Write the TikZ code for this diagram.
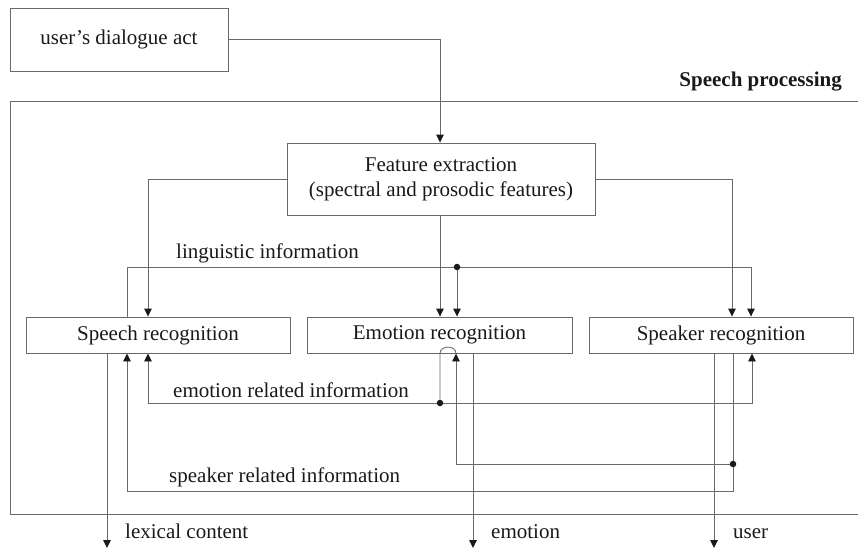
\documentclass[tikz,border=0pt]{standalone}
\usepackage{fontspec}
\setmainfont{Liberation Serif}
\usetikzlibrary{arrows.meta,calc}
\definecolor{ln}{RGB}{105,105,105}
\definecolor{tx}{RGB}{25,25,25}
\begin{document}
\begin{tikzpicture}[x=1pt,y=-1pt,
  box/.style={draw=ln,line width=0.9pt,inner sep=0pt,font=\fontsize{21}{25}\selectfont,text=tx,align=center},
  lbl/.style={inner sep=0pt,font=\fontsize{21}{25}\selectfont,text=tx},
  conn/.style={draw=ln,line width=0.9pt},
  arr/.style={conn,-{Triangle[width=7.5pt,length=8pt,color=tx]}},
  dot/.style={circle,fill=tx,inner sep=0pt,minimum size=6.5pt}]
\useasboundingbox (0,0) rectangle (858,550);

% outer frame
\draw[conn] (858,101) -- (10,101) -- (10,514) -- (858,514);
\node[lbl,font=\bfseries\fontsize{21}{25}\selectfont,anchor=base east] (sp) at (842,86) {Speech processing};

% boxes
\node[box,minimum width=218pt,minimum height=63pt] (uda) at (119,39.5) {user's dialogue act};
\node[box,minimum width=308pt,minimum height=72pt] (fe) at (441,179) {Feature extraction\\(spectral and prosodic features)};
\node[box,minimum width=264pt,minimum height=36pt] (sr) at (158,335) {Speech recognition};
\node[box,minimum width=265pt,minimum height=36pt] (er) at (439.5,335) {Emotion recognition};
\node[box,minimum width=264pt,minimum height=36pt] (spk) at (721,335) {Speaker recognition};

% input and feature distribution
\draw[arr] (uda.east) -| (440,0 |- fe.north);
\draw[arr] (440,0 |- fe.south) -- (440,0 |- er.north);
\draw[arr] (fe.west) -| (148,0 |- sr.north);
\draw[arr] (fe.east) -| (732,0 |- spk.north);

% linguistic information
\coordinate (ld) at (457,267);
\draw[arr] (127,0 |- sr.north) |- (751,267) -- (751,0 |- spk.north);
\draw[arr] (ld) -- (457,0 |- er.north);
\node[dot] (ldn) at (ld) {};
\node[lbl,anchor=base west] (li) at (176,258) {linguistic information};

% emotion related information
\coordinate (ed) at (440,403);
\draw[conn] (ed) -- (440,0 |- er.south) .. controls (440,345) and (456,345) .. (456,0 |- er.south);
\draw[arr] (ed) -| (148,0 |- sr.south);
\draw[arr] (ed) -| (752,0 |- spk.south);
\node[dot] (edn) at (ed) {};
\node[lbl,anchor=base west] (eri) at (173,397) {emotion related information};

% speaker related information
\coordinate (sd) at (733,464);
\draw[arr] (733,0 |- spk.south) -- (733,491) -| (127,0 |- sr.south);
\draw[arr] (sd) -| (456,0 |- er.south);
\node[dot] (sdn) at (sd) {};
\node[lbl,anchor=base west] (sri) at (169,482) {speaker related information};

% outputs
\coordinate (o1) at (107,548);
\coordinate (o2) at (473,548);
\coordinate (o3) at (714,548);
\draw[arr] (107,0 |- sr.south) -- (o1);
\draw[arr] (473,0 |- er.south) -- (o2);
\draw[arr] (714,0 |- spk.south) -- (o3);
\node[lbl,anchor=base west] (lc) at (125,538) {lexical content};
\node[lbl,anchor=base west] (em) at (491,538) {emotion};
\node[lbl,anchor=base west] (us) at (733,538) {user};
\end{tikzpicture}
\end{document}
